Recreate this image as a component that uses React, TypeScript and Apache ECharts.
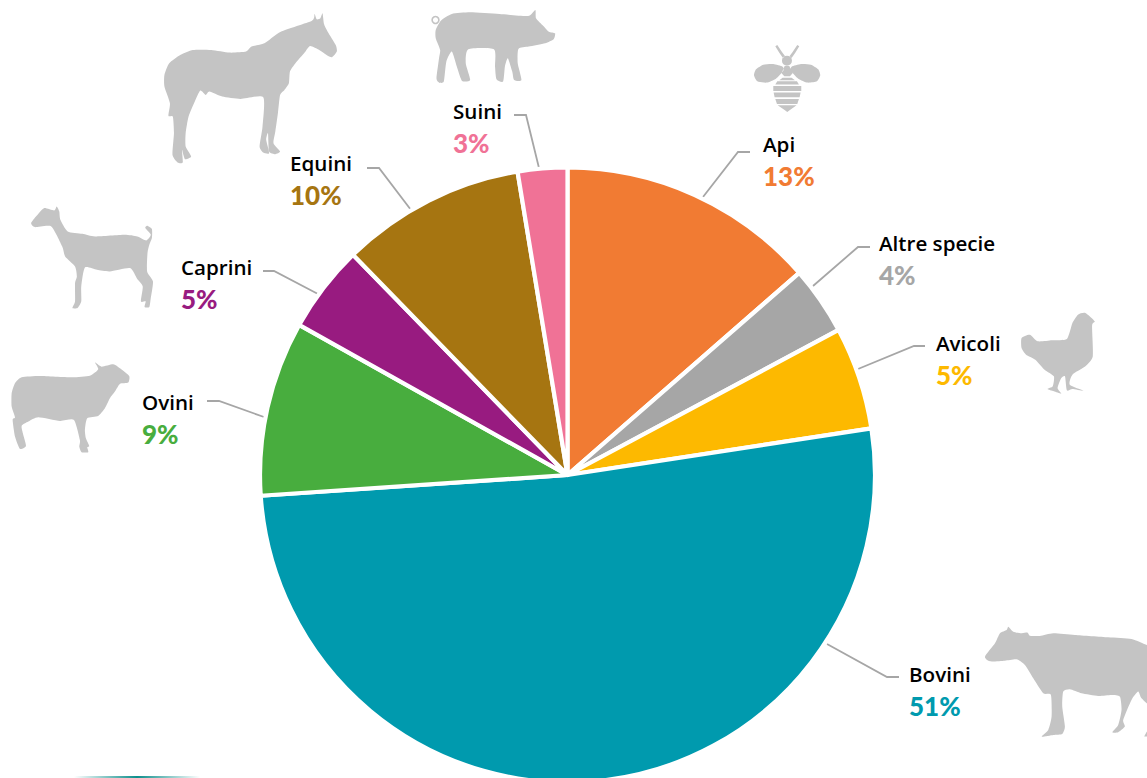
import React, { useEffect, useRef } from "react";
import * as echarts from "echarts";

const categories = ["Api", "Altre specie", "Avicoli", "Bovini", "Ovini", "Caprini", "Equini", "Suini"];
const sliceValues = [13.6, 3.6, 5.4, 51.4, 9.2, 4.6, 9.7, 2.6];
const percentLabels = ["13%", "4%", "5%", "51%", "9%", "5%", "10%", "3%"];
const sliceColors = ["#F17B33", "#A6A6A6", "#FDB900", "#009AAE", "#48AD3E", "#981B80", "#A67511", "#F07296"];

const labelAnchors: [number, number][] = [
  [763, 128], [879, 227], [936, 327], [909, 658], [142, 386], [181, 251], [290, 147], [453, 95],
];
const leaderLines: [number, number][][] = [
  [[703, 197], [738, 152], [750, 152]],
  [[813, 286], [858, 247], [870, 247]],
  [[858, 369], [914, 346], [925, 346]],
  [[827, 644], [887, 677], [899, 677]],
  [[264, 417], [219, 401], [207, 401]],
  [[318, 294], [274, 271], [263, 271]],
  [[411, 210], [379, 168], [367, 168]],
  [[539, 168], [526, 115], [514, 115]],
];

const smooth = (pts: number[][]): string => {
  const n = pts.length;
  const at = (i: number) => pts[(i + n) % n];
  const k = 0.6 / 6;
  let d = `M${pts[0][0]} ${pts[0][1]}`;
  for (let i = 0; i < n; i++) {
    const p0 = at(i - 1), p1 = at(i), p2 = at(i + 1), p3 = at(i + 2);
    d += `C${p1[0] + (p2[0] - p0[0]) * k} ${p1[1] + (p2[1] - p0[1]) * k} ${p2[0] - (p3[0] - p1[0]) * k} ${p2[1] - (p3[1] - p1[1]) * k} ${p2[0]} ${p2[1]}`;
  }
  return d + "Z";
};
const poly = (pts: number[][]): string => "M" + pts.map((p) => p.join(" ")).join("L") + "Z";

const horse = [[862,42],[868,58],[878,55],[884,40],[888,72],[898,95],[920,135],[923,155],[910,172],[895,165],[875,150],[850,138],[835,158],[810,190],[795,215],[792,250],[780,270],[768,285],[762,340],[755,395],[750,430],[768,455],[755,463],[738,455],[735,400],[730,420],[738,460],[722,458],[712,440],[720,380],[722,292],[660,297],[610,290],[575,275],[565,285],[550,272],[535,305],[518,350],[510,400],[510,440],[525,470],[508,478],[500,450],[502,488],[488,488],[474,465],[478,400],[475,350],[463,348],[467,310],[452,260],[452,225],[465,190],[495,165],[530,150],[580,150],[630,158],[675,155],[690,140],[725,130],[770,95],[855,62]];
const pig = [[1210,62],[1240,42],[1290,37],[1370,42],[1448,48],[1468,30],[1470,55],[1490,78],[1505,95],[1522,100],[1518,118],[1495,130],[1450,140],[1422,147],[1420,190],[1430,240],[1410,240],[1405,215],[1393,175],[1385,200],[1380,245],[1362,238],[1358,200],[1355,148],[1285,148],[1278,190],[1290,240],[1268,243],[1255,205],[1240,155],[1225,185],[1218,245],[1205,248],[1198,235],[1205,175],[1208,150],[1196,115],[1196,90]];
const goat = [[155,620],[162,635],[165,660],[185,695],[225,702],[260,710],[340,705],[375,710],[400,722],[412,705],[397,685],[402,678],[415,688],[415,715],[408,735],[403,760],[402,815],[418,845],[412,895],[408,922],[395,922],[398,905],[385,905],[390,860],[375,838],[355,805],[300,815],[265,810],[232,803],[222,860],[222,905],[212,925],[198,925],[205,905],[205,850],[210,830],[205,800],[178,770],[170,740],[140,680],[95,682],[85,670],[100,648],[120,625],[148,632]];
const sheep = [[285,67],[305,80],[340,73],[360,85],[388,108],[385,128],[360,132],[345,155],[330,175],[315,205],[295,228],[262,235],[255,270],[258,295],[268,318],[262,322],[265,337],[245,337],[238,320],[240,300],[222,240],[180,243],[115,232],[85,245],[65,258],[70,285],[78,318],[60,327],[45,290],[38,240],[45,232],[35,200],[35,160],[45,130],[65,112],[120,108],[215,112],[270,107],[295,88]];
const chicken = [[1400,880],[1425,905],[1418,918],[1420,1010],[1400,1040],[1365,1065],[1358,1095],[1395,1113],[1365,1108],[1350,1112],[1345,1070],[1335,1075],[1325,1105],[1335,1122],[1315,1115],[1298,1108],[1312,1100],[1315,1070],[1290,1050],[1265,1020],[1240,1005],[1228,985],[1228,955],[1250,945],[1272,965],[1310,962],[1350,958],[1365,910],[1380,885]];
const cow = [[100,20],[115,35],[140,40],[158,38],[165,47],[195,48],[235,40],[300,45],[400,52],[470,57],[516,75],[530,75],[530,250],[500,235],[490,215],[470,240],[445,300],[450,320],[430,337],[412,337],[430,315],[440,270],[435,230],[410,225],[370,228],[320,220],[285,208],[265,215],[262,260],[270,320],[262,342],[235,345],[200,350],[220,330],[230,290],[228,225],[205,220],[175,175],[150,135],[125,118],[90,122],[45,124],[30,110],[60,70],[75,40],[95,30]];
const cowFoot = [[516,335],[508,350],[522,350]];
const beeWing = [[128,80],[100,72],[70,74],[48,88],[42,106],[52,124],[80,128],[108,116],[130,92]];
const beeParts = [
  [[106,19],[112,15],[126,36],[135,48],[129,54],[118,38]],
  [[178,19],[172,15],[158,36],[149,48],[155,54],[166,38]],
  [[128,113],[155,113],[165,121],[118,121]],
  [[112,124],[171,124],[177,134],[106,134]],
  [[100,138],[184,138],[184,153],[100,153]],
  [[101,158],[182,158],[179,172],[104,172]],
  [[106,177],[177,177],[172,192],[111,192]],
  [[113,196],[170,196],[150,210],[142,216],[134,210]],
  [[134,78],[148,78],[158,100],[150,109],[133,109],[125,100]],
];
const mirror = (pts: number[][]) => pts.map((p) => [283 - p[0], p[1]]);
const circle = (cx: number, cy: number, r: number) =>
  `M${cx - r} ${cy}A${r} ${r} 0 1 0 ${cx + r} ${cy}A${r} ${r} 0 1 0 ${cx - r} ${cy}Z`;

const shapes: Record<string, string> = {
  horseShape: smooth(horse),
  pigShape: smooth(pig),
  goatShape: smooth(goat),
  sheepShape: smooth(sheep),
  chickenShape: smooth(chicken),
  cowShape: smooth(cow) + poly(cowFoot),
  beeShape: smooth(beeWing) + smooth(mirror(beeWing)) + beeParts.map(poly).join("") + circle(141, 62, 15),
};
Object.entries(shapes).forEach(([name, d]) => {
  echarts.graphic.registerShape(name, echarts.graphic.extendPath(d, {}));
});

const SILHOUETTE = "#C4C4C4";
const silhouettes = [
  { type: "horseShape", x: -1, y: 0, scaleX: 570 / 1557, scaleY: 1 / 3 },
  { type: "pigShape", x: -2, y: 0, scaleX: 570 / 1557, scaleY: 1 / 3 },
  { type: "goatShape", x: 0, y: 0, scaleX: 570 / 1557, scaleY: 1 / 3 },
  { type: "sheepShape", x: 0, y: 340, scaleX: 1 / 3, scaleY: 1 / 3 },
  { type: "chickenShape", x: 566, y: 20, scaleX: 577 / 1557, scaleY: 1 / 3 },
  { type: "cowShape", x: 975, y: 620, scaleX: 1 / 3, scaleY: 1 / 3 },
  { type: "beeShape", x: 740, y: 40, scaleX: 1 / 3, scaleY: 1 / 3 },
];

export default function App() {
  const ref = useRef<HTMLDivElement>(null);
  useEffect(() => {
    const chart = echarts.init(ref.current!, undefined, { renderer: "svg" });
    const rich: Record<string, any> = {
      name: { fontFamily: "Open Sans", fontWeight: 600, fontSize: 20.6, color: "#000", lineHeight: 32 },
    };
    sliceColors.forEach((c, i) => {
      rich["p" + i] = { fontFamily: "Lato", fontWeight: 900, fontSize: 26, color: c, lineHeight: 32 };
    });
    chart.setOption({
      animation: false,
      backgroundColor: "#fff",
      graphic: {
        elements: [
          ...silhouettes.map((s) => ({ ...s, silent: true, style: { fill: SILHOUETTE } })),
          {
            type: "circle", silent: true, x: 0, y: 0,
            shape: { cx: 435.5, cy: 20, r: 3.4 },
            style: { fill: "none", stroke: SILHOUETTE, lineWidth: 1.6 },
          },
          {
            type: "rect", silent: true, x: 0, y: 0,
            shape: { x: 74, y: 776, width: 126, height: 2 },
            style: {
              fill: new echarts.graphic.LinearGradient(0, 0, 1, 0, [
                { offset: 0, color: "rgba(13,143,140,0)" },
                { offset: 0.5, color: "rgba(13,143,140,1)" },
                { offset: 1, color: "rgba(13,143,140,0)" },
              ]),
            },
          },
        ],
      },
      series: [
        {
          type: "pie",
          center: [567.5, 475],
          radius: 307.5,
          startAngle: 90,
          clockwise: true,
          silent: true,
          data: categories.map((name, i) => ({
            name,
            value: sliceValues[i],
            itemStyle: { color: sliceColors[i] },
          })),
          itemStyle: { borderColor: "#fff", borderWidth: 4.2 },
          label: {
            show: true,
            position: "outside",
            align: "left",
            formatter: (p: any) => `{name|${p.name}}\n{p${p.dataIndex}|${percentLabels[p.dataIndex]}}`,
            rich,
          },
          labelLine: { show: true, lineStyle: { color: "#A6A6A6", width: 1.8 } },
          labelLayout: (p: any) => ({
            x: labelAnchors[p.dataIndex][0],
            y: labelAnchors[p.dataIndex][1],
            align: "left",
            verticalAlign: "top",
            labelLinePoints: leaderLines[p.dataIndex],
          }),
        },
      ],
    });
    return () => chart.dispose();
  }, []);
  return (
    <div
      ref={ref}
      style={{ position: "absolute", left: 0, top: 0, width: 1147, height: 778, overflow: "hidden" }}
    />
  );
}
